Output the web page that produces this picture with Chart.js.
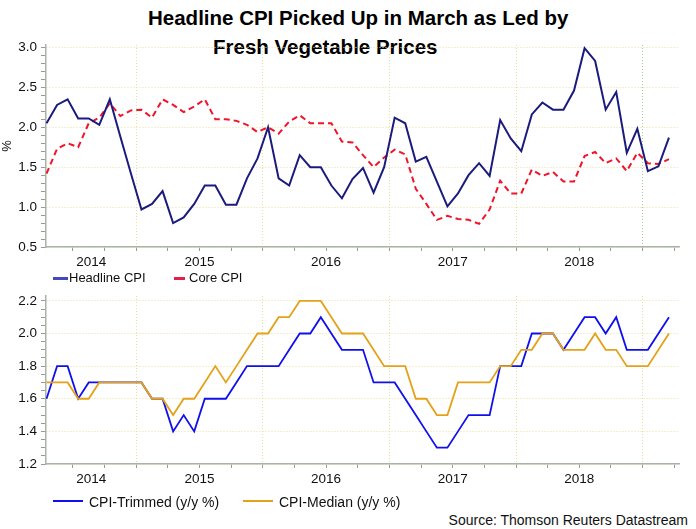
<!DOCTYPE html>
<html><head><meta charset="utf-8">
<script src="https://cdn.jsdelivr.net/npm/chart.js@4.4.0/dist/chart.umd.min.js"></script>
<style>
html,body{margin:0;padding:0;background:#fff;}
body{width:696px;height:529px;position:relative;overflow:hidden;font-family:Arial,"Liberation Sans",sans-serif;}
.t{position:absolute;font-weight:bold;font-size:20.5px;color:#000;white-space:nowrap;line-height:1;}
canvas{position:absolute;left:0;}
#c1{top:0;}
#c2{top:280px;}
.lg{position:absolute;color:#111;white-space:nowrap;line-height:1;z-index:2;}
.sw{position:absolute;z-index:2;}
</style></head>
<body>
<div class="t" style="left:148px;top:7.6px;">Headline CPI Picked Up in March as Led by</div>
<div class="t" style="left:213px;top:36.6px;">Fresh Vegetable Prices</div>
<canvas id="c1" width="696" height="270"></canvas>
<canvas id="c2" width="696" height="215"></canvas>

<div class="sw" style="left:53px;top:276.5px;width:15px;height:3.5px;background:#4646bd;"></div>
<div class="lg" style="left:69px;top:270.6px;font-size:13px;">Headline CPI</div>
<div class="sw" style="left:174px;top:276.5px;width:11px;height:3.5px;background:#e4204a;"></div>
<div class="lg" style="left:189px;top:270.6px;font-size:13px;">Core CPI</div>

<div class="sw" style="left:53px;top:500px;width:30px;height:1.5px;background:#1010ee;"></div>
<div class="lg" style="left:89px;top:494.9px;font-size:14px;">CPI-Trimmed (y/y %)</div>
<div class="sw" style="left:243px;top:500px;width:30px;height:1.5px;background:#e3a21a;"></div>
<div class="lg" style="left:279px;top:494.9px;font-size:14px;">CPI-Median (y/y %)</div>

<div class="lg" style="right:8px;top:513.1px;font-size:14px;">Source: Thomson Reuters Datastream</div>

<script>
// ---- data (monthly, Apr 2014 .. Mar 2019) ----
const months = [
  '2014-04','2014-05','2014-06','2014-07','2014-08','2014-09','2014-10','2014-11','2014-12',
  '2015-01','2015-02','2015-03','2015-04','2015-05','2015-06','2015-07','2015-08','2015-09','2015-10','2015-11','2015-12',
  '2016-01','2016-02','2016-03','2016-04','2016-05','2016-06','2016-07','2016-08','2016-09','2016-10','2016-11','2016-12',
  '2017-01','2017-02','2017-03','2017-04','2017-05','2017-06','2017-07','2017-08','2017-09','2017-10','2017-11','2017-12',
  '2018-01','2018-02','2018-03','2018-04','2018-05','2018-06','2018-07','2018-08','2018-09','2018-10','2018-11','2018-12',
  '2019-01','2019-02','2019-03'
];
const headline = [
  2.05,2.28,2.35,2.11,2.11,2.03,2.35,1.88,1.42,
  0.97,1.04,1.20,0.80,0.87,1.04,1.27,1.27,1.03,1.03,1.36,1.61,
  2.00,1.36,1.27,1.65,1.50,1.50,1.27,1.11,1.35,1.49,1.18,1.50,
  2.12,2.05,1.57,1.63,1.32,1.01,1.17,1.40,1.55,1.39,2.09,1.86,
  1.70,2.16,2.31,2.22,2.22,2.46,2.99,2.83,2.22,2.44,1.68,1.98,
  1.45,1.51,1.87
];
const core = [
  1.42,1.73,1.80,1.75,2.05,2.12,2.30,2.14,2.21,
  2.22,2.12,2.35,2.28,2.19,2.26,2.35,2.10,2.10,2.08,2.03,1.94,
  2.00,1.92,2.07,2.15,2.05,2.05,2.05,1.82,1.81,1.65,1.50,1.62,
  1.72,1.66,1.23,1.04,0.84,0.89,0.85,0.84,0.79,0.97,1.33,1.17,
  1.17,1.47,1.39,1.44,1.32,1.32,1.64,1.69,1.55,1.61,1.45,1.68,
  1.55,1.54,1.60
];
const trimmed = [
  1.6,1.8,1.8,1.6,1.7,1.7,1.7,1.7,1.7,
  1.7,1.6,1.6,1.4,1.5,1.4,1.6,1.6,1.6,1.7,1.8,1.8,
  1.8,1.8,1.9,2.0,2.0,2.1,2.0,1.9,1.9,1.9,1.7,1.7,
  1.7,1.6,1.5,1.4,1.3,1.3,1.4,1.5,1.5,1.5,1.8,1.8,
  1.8,2.0,2.0,2.0,1.9,2.0,2.1,2.1,2.0,2.1,1.9,1.9,
  1.9,2.0,2.1
];
const median = [
  1.7,1.7,1.7,1.6,1.6,1.7,1.7,1.7,1.7,
  1.7,1.6,1.6,1.5,1.6,1.6,1.7,1.8,1.7,1.8,1.9,2.0,
  2.0,2.1,2.1,2.2,2.2,2.2,2.1,2.0,2.0,2.0,1.9,1.8,
  1.8,1.8,1.6,1.6,1.5,1.5,1.7,1.7,1.7,1.7,1.8,1.8,
  1.9,1.9,2.0,2.0,1.9,1.9,1.9,2.0,1.9,1.9,1.8,1.8,
  1.8,1.9,2.0
];
// ---- tick positions (month index units) ----
const quarterTicks = [2.5,5.5,8.5,11.5,14.5,17.5,20.5,23.5,26.5,29.5,32.5,35.5,38.5,41.5,44.5,47.5,50.5,53.5,56.5,59.5];
const yearBoundaries = [8.5,20.5,32.5,44.5,56.5];
const yearLabelPos = [4.25,14.5,26.5,38.5,50.5];
const yearLabels = ['2014','2015','2016','2017','2018'];
const topYTicks = [0.5,0.6,0.7,0.8,0.9,1.0,1.1,1.2,1.3,1.4,1.5,1.6,1.7,1.8,1.9,2.0,2.1,2.2,2.3,2.4,2.5,2.6,2.7,2.8,2.9,3.0];
const bottomYTicks = [1.2,1.25,1.3,1.35,1.4,1.45,1.5,1.55,1.6,1.65,1.7,1.75,1.8,1.85,1.9,1.95,2.0,2.05,2.1,2.15,2.2];

const AX = '#a8b4a8';
const GRID = '#ebdf9c';
const GREEN = '#98cc98';
const TICKC = '#9a9a9a';
const FONT = 'Arial, "Liberation Sans", sans-serif';
const CLEAR = 'rgba(0,0,0,0)';

function near(a,b){ return Math.abs(a-b) < 1e-6; }
function pts(arr){ return arr.map((v,i)=>({x:i, y:v})); }

function xAxis(greenAt, h){
  const vals = quarterTicks.concat(yearLabelPos.filter(p=>!quarterTicks.some(q=>near(q,p)))).sort((a,b)=>a-b);
  return {
    type:'linear', min:-0.05, max:59.95,
    afterBuildTicks: s => { s.ticks = vals.map(v=>({value:v})); },
    afterFit: s => { s.height = h; },
    ticks: { autoSkip:false, maxRotation:0, minRotation:0, padding:3, color:'#111',
      font:{family:FONT, size:13.5},
      callback: v => { const i = yearLabelPos.findIndex(p=>near(p,v)); return i>=0 ? yearLabels[i] : ''; } },
    grid: { tickLength:4, lineWidth:1,
      color: c => { if(!c.tick) return CLEAR; const v=c.tick.value;
        if (greenAt!==null && near(v,greenAt)) return GREEN;
        return yearBoundaries.some(b=>near(b,v)) ? GRID : CLEAR; },
      tickColor: c => (c.tick && quarterTicks.some(q=>near(q,c.tick.value))) ? TICKC : CLEAR },
    border: { color:AX, width:1.5, dash:[1,2] }
  };
}
function yAxis(min, max, vals, isMajor, withTitle){
  return {
    min:min, max:max,
    afterBuildTicks: s => { s.ticks = vals.map(v=>({value:v})); },
    afterFit: s => { s.width = 46; },
    ticks: { autoSkip:false, padding:4, color:'#111', font:{family:FONT, size:13.5},
      callback: v => isMajor(v) ? v.toFixed(1) : '' },
    grid: { tickLength:5, lineWidth:1,
      color: c => (c.tick && isMajor(c.tick.value)) ? GRID : CLEAR,
      tickColor: TICKC },
    border: { color:AX, width:1.5, dash:[1,2] },
    title: { display:withTitle, text:'%', padding:0, color:'#111', font:{family:FONT, size:13} }
  };
}

new Chart(document.getElementById('c1'), {
  type:'line',
  data:{ datasets:[
    { label:'Headline CPI', data:pts(headline), borderColor:'#1b1b7e', borderWidth:2, pointRadius:0, tension:0, order:0 },
    { label:'Core CPI', data:pts(core), borderColor:'#f0142a', borderWidth:2, borderDash:[6,4], pointRadius:0, tension:0, order:1 }
  ]},
  options:{
    responsive:false, animation:false, devicePixelRatio:1,
    layout:{ padding:{ top:45, right:17, left:0, bottom:0 } },
    plugins:{ legend:{display:false}, tooltip:{enabled:false}, title:{display:false} },
    scales:{
      x: xAxis(56.5, 23),
      y: yAxis(0.5, 3.03, topYTicks, v => Math.round(v*10) % 5 === 0, true)
    }
  }
});

new Chart(document.getElementById('c2'), {
  type:'line',
  data:{ datasets:[
    { label:'CPI-Median (y/y %)', data:pts(median), borderColor:'#e3a21a', borderWidth:1.8, pointRadius:0, tension:0, order:0 },
    { label:'CPI-Trimmed (y/y %)', data:pts(trimmed), borderColor:'#1010ee', borderWidth:1.8, pointRadius:0, tension:0, order:1 }
  ]},
  options:{
    responsive:false, animation:false, devicePixelRatio:1,
    layout:{ padding:{ top:16, right:17, left:0, bottom:0 } },
    plugins:{ legend:{display:false}, tooltip:{enabled:false}, title:{display:false} },
    scales:{
      x: xAxis(null, 31),
      y: yAxis(1.2, 2.23, bottomYTicks, v => Math.round(v*100) % 20 === 0, false)
    }
  }
});
</script>
</body></html>
